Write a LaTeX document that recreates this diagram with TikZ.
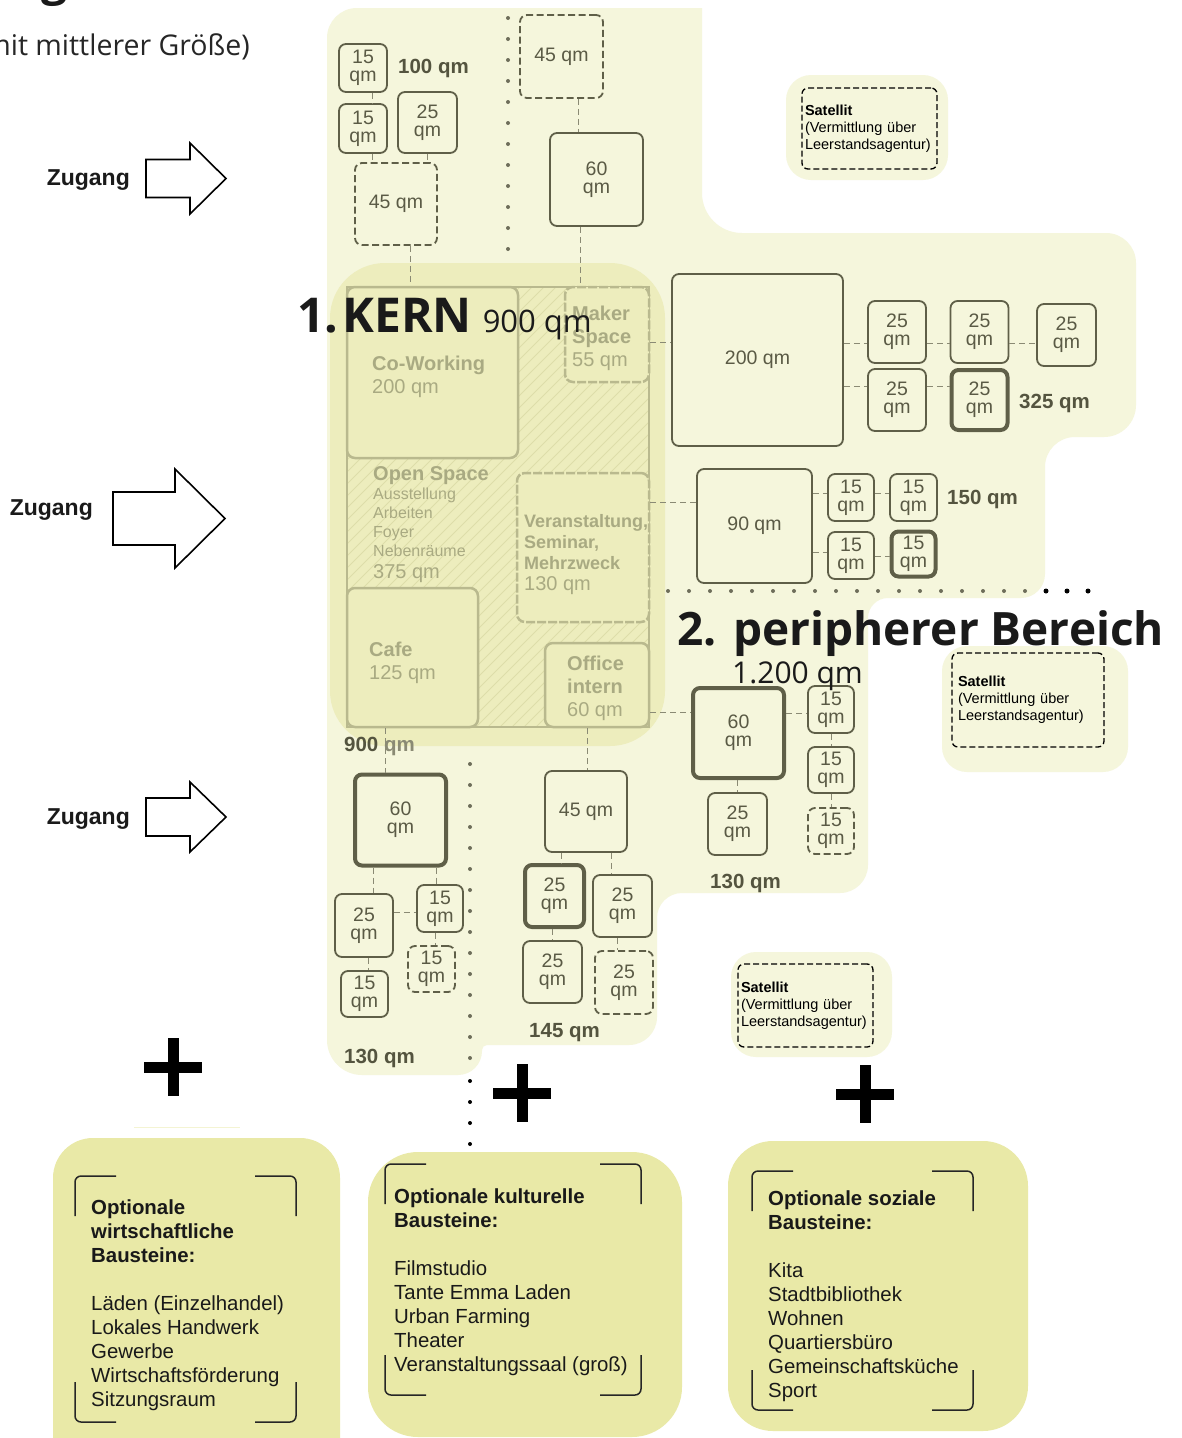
\documentclass[tikz,border=0pt]{standalone}
\usepackage{fontspec}
\setmainfont{Liberation Sans}
\newfontfamily\titelfont{Open Sans}
\usetikzlibrary{calc}

\definecolor{hellgelb}{HTML}{F5F6DC}
\definecolor{kerngelb}{HTML}{EDEDBD}
\definecolor{kernlinie}{HTML}{B9B98E}
\definecolor{kernschrift}{HTML}{A9AA82}
\definecolor{schraffur}{HTML}{DDDDA9}
\definecolor{oliv}{HTML}{5F5F48}
\definecolor{olivtext}{HTML}{5A5A45}
\definecolor{olivdunkel}{HTML}{54543F}
\definecolor{verbgrau}{HTML}{8A8A74}
\definecolor{punktgrau}{HTML}{6E6E5A}
\definecolor{bausteingelb}{HTML}{E9E9A7}
\definecolor{titelschwarz}{HTML}{1A1A1A}

\begin{document}
\begin{tikzpicture}[x=1pt,y=-1pt] % one unit = one pixel, y runs downwards
\tikzset{raum/.style={draw=oliv, line width=1.8pt, fill=hellgelb, rounded corners=7pt, text=olivtext, align=center, inner sep=0pt, font=\fontsize{19.5}{18}\selectfont}} % a room of the building block
\tikzset{raumdick/.style={raum, line width=4pt}}
\tikzset{raumplan/.style={raum, dash pattern=on 7pt off 3.5pt}} % optional room
\tikzset{groesse/.style 2 args={minimum width=#1pt, minimum height=#2pt}}
\tikzset{verb/.style={draw=verbgrau, line width=1pt, dash pattern=on 6pt off 4pt}}
\tikzset{summe/.style={anchor=base west, inner sep=0pt, text=olivdunkel, font=\fontsize{20.5}{24}\selectfont\bfseries}}
\tikzset{kernflaeche/.style={fill=kerngelb, rounded corners=55pt}}
\tikzset{kernrahmen/.style={draw=kernlinie, line width=2.5pt}}
\tikzset{kernraum/.style={draw=kernlinie, line width=2.5pt, fill=kerngelb, rounded corners=8pt}}
\tikzset{kernplan/.style={dash pattern=on 9pt off 2pt}}
\tikzset{kerntext/.style={anchor=base west, align=left, inner sep=0pt, text=kernschrift, font=\fontsize{20}{23}\selectfont}} % base = last line
\tikzset{titel/.style={anchor=base west, inner sep=0pt, text=titelschwarz, font=\titelfont\fontsize{46}{50}\selectfont}}
\tikzset{punkte/.style={line width=4pt, line cap=round, dash pattern=on 0pt off 21pt}}
\tikzset{satbg/.style={fill=hellgelb, rounded corners=25pt}}
\tikzset{satellit/.style={draw=black, line width=1.3pt, dash pattern=on 6pt off 3pt, rounded corners=6pt, fill=hellgelb, align=left, inner sep=3pt, font=\fontsize{14.5}{17}\selectfont}}
\tikzset{pfeil/.style={draw=black, line width=1.6pt, fill=white}}
\tikzset{zugang/.style={anchor=east, inner sep=0pt, text=titelschwarz, font=\fontsize{23}{26}\selectfont\bfseries}}
\tikzset{kreuz/.style={draw=black, line width=11pt}}
\tikzset{bausteinfl/.style={fill=bausteingelb}}
\tikzset{klammer/.style={draw=black!85, line width=1.5pt, rounded corners=6pt}}
\tikzset{bausteintext/.style={anchor=base west, align=left, inner sep=0pt, text=black!90, font=\fontsize{20.4}{24}\selectfont}}

\useasboundingbox (0,0) rectangle (1182,1438);
\fill[white] (0,0) rectangle (1182,1438);

% heading cut off at the top
\node[titel] (ueberschrift) at (41,-5) {\bfseries g};
\node[titel, anchor=base east, text=black!85, font=\titelfont\fontsize{28.5}{30}\selectfont] (untertitel) at (250,55) {mit mittlerer Größe)};

% light ground of the whole building
\fill[hellgelb] (327,500) [rounded corners=30pt] -- (327,8) [sharp corners] -- (702,8) [rounded corners=40pt] -- (702,233)
  [rounded corners=30pt] -- (1136,233) [rounded corners=32pt] -- (1136,437) [rounded corners=30pt] -- (1045,437)
  [rounded corners=24pt] -- (1045,598) [rounded corners=20pt] -- (868,598) [rounded corners=28pt] -- (868,893)
  [rounded corners=25pt] -- (657,893) [rounded corners=28pt] -- (657,1045) [rounded corners=5pt] -- (482,1045)
  [rounded corners=24pt] -- (482,1075) [rounded corners=35pt] -- (327,1075) -- cycle;

% dotted borders
\draw[punkte, punktgrau] (508,18) -- (508,271);
\draw[punkte, punktgrau] (470,764) -- (470,1061);
\draw[punkte, black] (470,1081) -- (470,1145);
\draw[punkte, punktgrau] (668,591) -- (1026,591);
\draw[punkte, black, line width=5pt] (1046,591) -- (1089,591);

% core area
\node[kernflaeche, groesse={335}{483}] (kernfl) at (497.5,504.5) {};
\begin{scope}
\clip (347,287) rectangle (649,727);
\foreach \d in {-100,-88,...,650} \draw[schraffur, line width=0.8pt] (\d,727) -- ++(440,-440);
\end{scope}
\node[kernrahmen, groesse={302}{440}] (kern) at (498,507) {};
\node[kernraum, groesse={171}{171}] (cowork) at (432.5,372.5) {};
\node[kernraum, kernplan, groesse={84}{95}] (maker) at (607,334.5) {};
\node[kernraum, kernplan, groesse={132}{149}] (verans) at (583,547.5) {};
\node[kernraum, groesse={131}{139}] (cafe) at (412.5,657.5) {};
\node[kernraum, groesse={104}{84}] (office) at (597,685) {};

\node[kerntext] (tcowork) at (372,393) {\textbf{Co-Working}\\200 qm};
\node[kerntext] (tmaker) at (572,366) {\textbf{Maker}\\\textbf{Space}\\55 qm};
\node[kerntext] (topen) at (373,480) {\textbf{Open Space}};
\node[kerntext, font=\fontsize{16}{19}\selectfont] (topenliste) at (373,556) {Ausstellung\\Arbeiten\\Foyer\\Nebenräume};
\node[kerntext] (topenqm) at (373,578) {375 qm};
\node[kerntext, font=\fontsize{18}{21}\selectfont\bfseries] (tverans) at (524,569) {Veranstaltung,\\Seminar,\\Mehrzweck};
\node[kerntext] (tveransqm) at (524,590) {130 qm};
\node[kerntext] (tcafe) at (369,679) {\textbf{Cafe}\\125 qm};
\node[kerntext] (toffice) at (567,716) {\textbf{Office}\\\textbf{intern}\\60 qm};

% 100 qm
\node[raum, groesse={48}{48}] (r15a) at (363,68) {15\\qm};
\node[raum, groesse={48}{49}] (r15b) at (363,128.5) {15\\qm};
\node[raum, groesse={59}{61}] (r25a) at (427.5,122.5) {25\\qm};
\node[raumplan, groesse={82}{82}] (r45a) at (396,204) {45 qm};
\node[summe] (s100) at (398,73) {100 qm};

% top column
\node[raumplan, groesse={83}{83}] (r45b) at (561.5,56.5) {45 qm};
\node[raum, groesse={93}{93}] (r60a) at (596.5,179.5) {60\\qm};

% 325 qm
\node[raum, groesse={171}{172}] (r200) at (757.5,360) {200 qm};
\node[raum, groesse={58}{62}] (r25b) at (897,332) {25\\qm};
\node[raum, groesse={58}{62}] (r25c) at (979.5,332) {25\\qm};
\node[raum, groesse={59}{62}] (r25d) at (1066.5,335) {25\\qm};
\node[raum, groesse={58}{62}] (r25e) at (897,400) {25\\qm};
\node[raumdick, groesse={56}{60}] (r25f) at (979.5,400) {25\\qm};
\node[summe] (s325) at (1019,408) {325 qm};

% 150 qm
\node[raum, groesse={115}{114}] (r90) at (754.5,526) {90 qm};
\node[raum, groesse={46}{47}] (r15c) at (851,497.5) {15\\qm};
\node[raum, groesse={47}{47}] (r15d) at (913.5,497.5) {15\\qm};
\node[raum, groesse={46}{47}] (r15e) at (851,555.5) {15\\qm};
\node[raumdick, groesse={44}{45}] (r15f) at (913.5,554) {15\\qm};
\node[summe] (s150) at (947,504) {150 qm};

% 130 qm right
\node[raumdick, groesse={91}{90}] (r60b) at (738.5,733) {60\\qm};
\node[raum, groesse={46}{47}] (r15g) at (831,709.5) {15\\qm};
\node[raum, groesse={46}{46}] (r15h) at (831,770) {15\\qm};
\node[raumplan, groesse={46}{46}] (r15i) at (831,831) {15\\qm};
\node[raum, groesse={59}{62}] (r25g) at (737.5,824) {25\\qm};
\node[summe] (s130b) at (710,888) {130 qm};

% 130 qm left
\node[summe] (s900) at (344,751) {900 \textcolor{verbgrau}{qm}};
\node[raumdick, groesse={91}{91}] (r60c) at (400.5,820) {60\\qm};
\node[raum, groesse={58}{63}] (r25h) at (364,925.5) {25\\qm};
\node[raum, groesse={46}{47}] (r15j) at (440,908.5) {15\\qm};
\node[raumplan, groesse={47}{46}] (r15k) at (431.5,969) {15\\qm};
\node[raum, groesse={47}{46}] (r15l) at (364.5,994) {15\\qm};
\node[summe] (s130a) at (344,1063) {130 qm};

% 145 qm
\node[raum, groesse={82}{81}] (r45c) at (586,811.5) {45 qm};
\node[raumdick, groesse={59}{62}] (r25i) at (554.5,896) {25\\qm};
\node[raum, groesse={59}{62}] (r25j) at (622.5,906) {25\\qm};
\node[raum, groesse={59}{62}] (r25k) at (552.5,972) {25\\qm};
\node[raumplan, groesse={58}{63}] (r25l) at (624,982.5) {25\\qm};
\node[summe] (s145) at (529,1037) {145 qm};

% connections
\draw[verb] (372,0 |- r15a.south) -- (372,0 |- r15b.north);
\draw[verb] (372,0 |- r15b.south) -- (372,0 |- r45a.north);
\draw[verb] (r25a.south) -- (r25a.south |- r45a.north);
\draw[verb] (410,0 |- r45a.south) -- (410,0 |- cowork.north);
\draw[verb] (578,0 |- r45b.south) -- (578,0 |- r60a.north);
\draw[verb] (580,0 |- r60a.south) -- (580,0 |- maker.north);
\draw[verb] (maker.east |- 0,342) -- (r200.west |- 0,342);
\draw[verb] (r200.east |- 0,343) -- (r25b.west |- 0,343);
\draw[verb] (r25b.east |- 0,343) -- (r25c.west |- 0,343);
\draw[verb] (r25c.east |- 0,343) -- (r25d.west |- 0,343);
\draw[verb] (r200.east |- 0,386) -- (r25e.west |- 0,386);
\draw[verb] (r25e.east |- 0,386) -- (r25f.west |- 0,386);
\draw[verb] (verans.east |- 0,502) -- (r90.west |- 0,502);
\draw[verb] (r90.east |- 0,493) -- (r15c.west |- 0,493);
\draw[verb] (r15c.east |- 0,493) -- (r15d.west |- 0,493);
\draw[verb] (r90.east |- 0,552) -- (r15e.west |- 0,552);
\draw[verb] (r15e.east |- 0,556) -- (r15f.west |- 0,556);
\draw[verb] (office.east |- 0,712) -- (r60b.west |- 0,712);
\draw[verb] (r60b.east |- 0,713) -- (r15g.west |- 0,713);
\draw[verb] (r15g.south) -- (r15h.north);
\draw[verb] (r15h.south) -- (r15i.north);
\draw[verb] (r25g.north |- r60b.south) -- (r25g.north);
\draw[verb] (385,0 |- cafe.south) -- (385,0 |- r60c.north);
\draw[verb] (373,0 |- r60c.south) -- (373,0 |- r25h.north);
\draw[verb] (436,0 |- r60c.south) -- (436,0 |- r15j.north);
\draw[verb] (r25h.east |- 0,912) -- (r15j.west |- 0,912);
\draw[verb] (435,0 |- r15j.south) -- (435,0 |- r15k.north);
\draw[verb] (368,0 |- r25h.south) -- (368,0 |- r15l.north);
\draw[verb] (587,0 |- office.south) -- (587,0 |- r45c.north);
\draw[verb] (561,0 |- r45c.south) -- (561,0 |- r25i.north);
\draw[verb] (611,0 |- r45c.south) -- (611,0 |- r25j.north);
\draw[verb] (552,0 |- r25i.south) -- (552,0 |- r25k.north);
\draw[verb] (617,0 |- r25j.south) -- (617,0 |- r25l.north);

% titles
\node[titel, font=\titelfont\fontsize{48}{50}\selectfont] (kerntitel) at (297,332) {{\bfseries 1.\hspace{4pt}KERN}\hspace{11pt}{\fontsize{31}{31}\selectfont 900 qm}};
\node[titel] (nr2) at (677,645) {\bfseries 2.};
\node[titel] (peripher) at (733,645) {\bfseries peripherer Bereich};
\node[titel, font=\titelfont\fontsize{30}{30}\selectfont] (peripherqm) at (732,683) {1.200 qm};

% satellites
\node[satbg, groesse={162}{105}] (sat1bg) at (867,127.5) {};
\node[satellit, groesse={135}{81}, text width=129pt] (sat1) at (869.5,128.5) {\textbf{Satellit}\\(Vermittlung über\\Leerstandsagentur)};
\node[satbg, groesse={186}{126}] (sat2bg) at (1035,709) {};
\node[satellit, groesse={152}{94}, inner xsep=6pt, text width=140pt] (sat2) at (1028,700) {\textbf{Satellit}\\(Vermittlung über\\Leerstandsagentur)};
\node[satbg, groesse={161}{105}] (sat3bg) at (811.5,1004.5) {};
\node[satellit, groesse={135}{83}, text width=129pt] (sat3) at (805.5,1005.5) {\textbf{Satellit}\\(Vermittlung über\\Leerstandsagentur)};

% entrances
\foreach \l/\b/\t/\y/\s/\h in {146/190/226/178.5/19/35.5, 113/175/225/518.5/26.5/49.5, 146/190/226/817/19/35}
  \draw[pfeil] (\l,\y-\s) -- (\b,\y-\s) -- (\b,\y-\h) -- (\t,\y) -- (\b,\y+\h) -- (\b,\y+\s) -- (\l,\y+\s) -- cycle;
\node[zugang] (zugang1) at (130,180) {Zugang};
\node[zugang] (zugang2) at (93,510) {Zugang};
\node[zugang] (zugang3) at (130,819) {Zugang};

% plus signs
\foreach \x/\y in {173/1067, 522/1093, 865/1094} {
  \draw[kreuz] (\x-29,\y) -- (\x+29,\y);
  \draw[kreuz] (\x,\y-29) -- (\x,\y+29);
}
\draw[draw=bausteingelb!50, line width=1pt] (134,1127) -- (240,1127);

% optional building blocks
\fill[bausteinfl, rounded corners=40pt] (53,1138) rectangle (340,1480);
\fill[bausteinfl, rounded corners=50pt] (368,1152) rectangle (682,1437);
\fill[bausteinfl, rounded corners=45pt] (728,1141) rectangle (1028,1431);
\foreach \xa/\ya/\xb/\yb in {75/1176/296/1422, 385/1164/641/1395, 752/1171/973/1410} {
  \draw[klammer] (\xa+41,\ya) -- (\xa,\ya) -- (\xa,\ya+40);
  \draw[klammer] (\xb-41,\ya) -- (\xb,\ya) -- (\xb,\ya+40);
  \draw[klammer] (\xa,\yb-40) -- (\xa,\yb) -- (\xa+41,\yb);
  \draw[klammer] (\xb,\yb-40) -- (\xb,\yb) -- (\xb-41,\yb);
}
\node[bausteintext] (wirtschaft) at (91,1406) {\textbf{Optionale}\\\textbf{wirtschaftliche}\\\textbf{Bausteine:}\\[24pt]Läden (Einzelhandel)\\Lokales Handwerk\\Gewerbe\\Wirtschaftsförderung\\Sitzungsraum};
\node[bausteintext] (kultur) at (394,1371) {\textbf{Optionale kulturelle}\\\textbf{Bausteine:}\\[24pt]Filmstudio\\Tante Emma Laden\\Urban Farming\\Theater\\Veranstaltungssaal (groß)};
\node[bausteintext] (sozial) at (768,1397) {\textbf{Optionale soziale}\\\textbf{Bausteine:}\\[24pt]Kita\\Stadtbibliothek\\Wohnen\\Quartiersbüro\\Gemeinschaftsküche\\Sport};
\end{tikzpicture}
\end{document}
